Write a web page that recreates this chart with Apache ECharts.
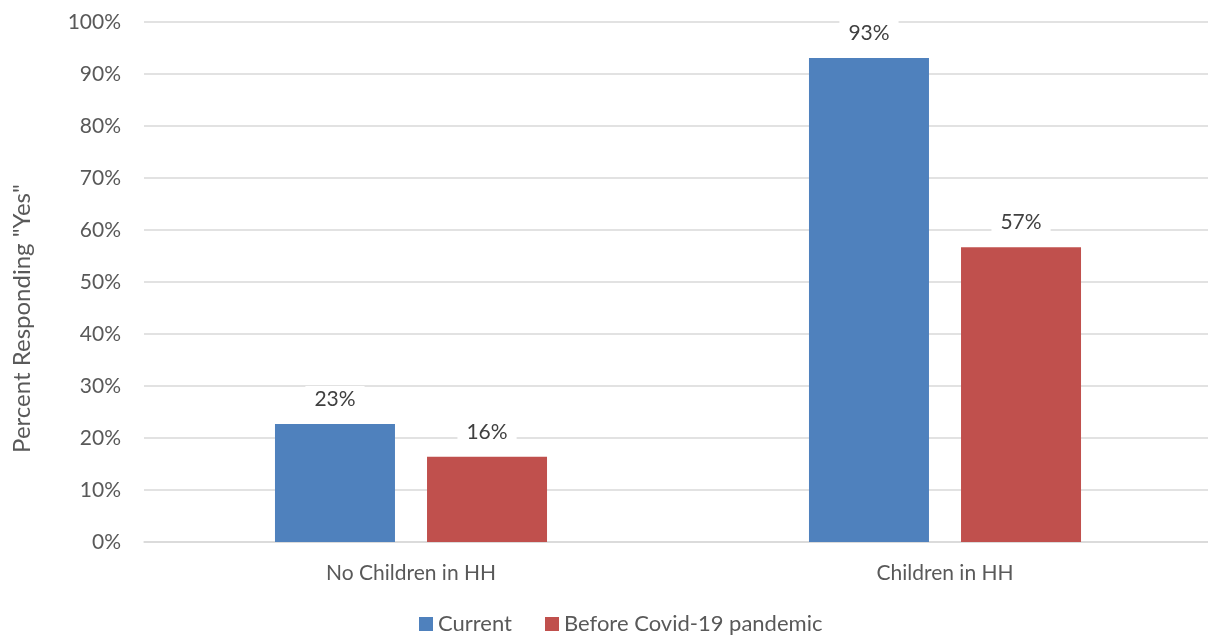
<!DOCTYPE html>
<html>
<head>
<meta charset="utf-8">
<script src="https://cdn.jsdelivr.net/npm/echarts@6/dist/echarts.min.js"></script>
<style>html,body{margin:0;padding:0;background:#fff;overflow:hidden;}#c{width:1214px;height:637px;}</style>
</head>
<body>
<div id="c"></div>
<script>
var categories = ['No Children in HH', 'Children in HH'];
var currentValues = [22.7, 93.1];
var beforeValues = [16.4, 56.7];
var seriesNames = ['Current', 'Before Covid-19 pandemic'];
var yAxisTitle = 'Percent Responding "Yes"';

var FONT = 'Lato, "Open Sans", sans-serif';
var chart = echarts.init(document.getElementById('c'));
var labelCfg = {
  show: true, position: 'top', distance: 11,
  formatter: function (p) { return Math.round(p.value) + '%'; },
  color: '#404040', fontSize: 21, fontFamily: FONT,
  backgroundColor: '#fff', padding: [3, 9, 3, 9]
};
chart.setOption({
  animation: false,
  textStyle: { fontFamily: FONT },
  grid: { left: 144, top: 22, width: 1068, bottom: 95, containLabel: false },
  legend: {
    top: 613, left: 419, itemWidth: 14, itemHeight: 14, itemGap: 33,
    icon: 'rect', padding: 0,
    textStyle: { color: '#595959', fontSize: 22, fontFamily: FONT },
    data: seriesNames
  },
  xAxis: {
    type: 'category', data: categories,
    axisLine: { lineStyle: { color: '#d9d9d9', width: 1.5 } },
    axisTick: { show: false },
    axisLabel: { color: '#595959', fontSize: 21, margin: 21, fontFamily: FONT }
  },
  yAxis: {
    type: 'value', min: 0, max: 100, interval: 10,
    axisLine: { show: false }, axisTick: { show: false },
    splitLine: { lineStyle: { color: '#d9d9d9', width: 1.5 } },
    axisLabel: { formatter: '{value}%', color: '#595959', fontSize: 21, margin: 23, fontFamily: FONT }
  },
  graphic: [{
    type: 'text', left: 10, top: 'middle', rotation: Math.PI / 2,
    style: { text: yAxisTitle, fill: '#595959', fontSize: 24, fontFamily: FONT }
  }],
  series: [
    { name: seriesNames[0], type: 'bar', data: currentValues, barWidth: 120, barGap: '26.7%',
      itemStyle: { color: '#4f81bd' }, label: labelCfg },
    { name: seriesNames[1], type: 'bar', data: beforeValues, barWidth: 120,
      itemStyle: { color: '#c0504d' }, label: labelCfg }
  ]
});
</script>
</body>
</html>
